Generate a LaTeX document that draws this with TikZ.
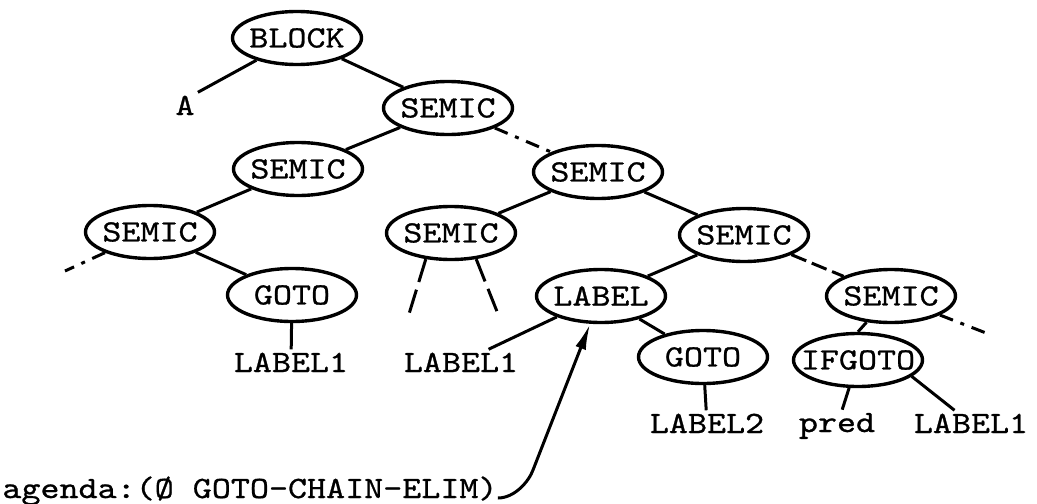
\documentclass[tikz,border=0pt]{standalone}
\usepackage{fontspec}
\newfontfamily\tyfont{lmmono10-regular.otf}[FakeStretch=1.17,FakeBold=0.8]
\usetikzlibrary{shapes.geometric,arrows.meta}
\newcommand{\zb}[1]{\makebox[0pt]{#1}}
\begin{document}
\begin{tikzpicture}[x=0.5pt,y=-0.5pt,
  font=\tyfont\fontsize{15.5pt}{18pt}\selectfont,
  ell/.style={ellipse,draw,line width=1.7pt,minimum width=64.5pt,minimum height=26.5pt,inner sep=0pt},
  txt/.style={inner sep=1.5pt,anchor=base},
  conn/.style={line width=1.5pt},
  dashdot/.style={conn,dash pattern=on 7pt off 4pt on 2pt off 4pt},
  dshA/.style={conn,dash pattern=on 12pt off 4pt},
  dshB/.style={conn,dash pattern=on 8pt off 3pt}]
\fill[white] (0,0) rectangle (1037,503);
\useasboundingbox (0,0) rectangle (1037,503);
% nodes
\node[ell] (block) at (297,38) {\zb{BLOCK}};
\node[txt] (a) at (185,115) {A};
\node[ell] (s1) at (448,108) {\zb{SEMIC}};
\node[ell] (s2) at (298,169) {\zb{SEMIC}};
\node[ell] (s3) at (150,232) {\zb{SEMIC}};
\node[ell] (s4) at (451,233) {\zb{SEMIC}};
\node[ell] (s5) at (598,172) {\zb{SEMIC}};
\node[ell] (s6) at (744,235) {\zb{SEMIC}};
\node[ell] (g1) at (292,295) {\zb{GOTO}};
\node[ell] (lab) at (601,296) {\zb{LABEL}};
\node[ell] (s7) at (891,296) {\zb{SEMIC}};
\node[ell] (g2) at (703,357) {\zb{GOTO}};
\node[ell] (ifg) at (858,360) {\zb{IFGOTO}};
\node[txt] (l1a) at (291,372) {LABEL1};
\node[txt] (l1b) at (461,372) {LABEL1};
\node[txt] (l2) at (707,433) {LABEL2};
\node[txt] (pred) at (837,432) {pred};
\node[txt] (l1c) at (971,433) {LABEL1};
\node[anchor=base west,inner sep=0pt] (agenda) at (2,498) {agenda:(Ø GOTO-CHAIN-ELIM)};
% free ends
\coordinate (s3e) at (65,271);
\coordinate (s4l) at (409,314);
\coordinate (s4r) at (498,314);
\coordinate (s7e) at (986,333);
\coordinate (bend) at (533,470);
% connectors
\draw[conn] (block) -- (a.north east);
\draw[conn] (block) -- (s1);
\draw[conn] (s1) -- (s2);
\draw[dashdot] (s1) -- (s5);
\draw[conn] (s2) -- (s3);
\draw[dashdot] (s3) -- (s3e);
\draw[conn] (s3) -- (g1);
\draw[conn] (g1) -- (l1a);
\draw[dshA] (s4.226) -- (s4l);
\draw[dshA] (s4.314) -- (s4r);
\draw[conn] (s5) -- (s4);
\draw[conn] (s5) -- (s6);
\draw[conn] (s6) -- (lab);
\draw[dshB] (s6) -- (s7);
\draw[conn] (lab) -- (l1b);
\draw[conn] (lab) -- (g2);
\draw[conn] (g2) -- (l2);
\draw[dashdot] (s7) -- (s7e);
\draw[conn] (s7.227) -- (ifg.north);
\draw[conn] (ifg) -- (pred);
\draw[conn] (ifg.343) -- (l1c);
\draw[conn,-{Latex[length=13pt,width=5.5pt]}] (agenda.base east) .. controls (515,498) and (529,481) .. (bend) -- (lab);
\end{tikzpicture}
\end{document}
